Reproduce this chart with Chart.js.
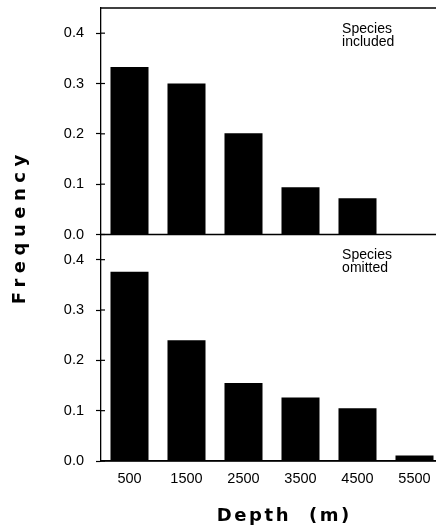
<!DOCTYPE html>
<html><head><meta charset="utf-8">
<script src="https://cdn.jsdelivr.net/npm/chart.js@4/dist/chart.umd.min.js"></script>
<style>
html,body{margin:0;padding:0;overflow:hidden;background:#fff}
#wrap{width:446px;height:528px;position:relative}
</style>
</head><body><div id="wrap"><canvas id="c" width="446" height="528"></canvas></div>
<script>
const depths = ['500','1500','2500','3500','4500','5500'];
const included = [0.333, 0.300, 0.201, 0.094, 0.072, 0.001];
const omitted = [0.376, 0.240, 0.155, 0.126, 0.105, 0.011];
const yTicks = [0.0, 0.1, 0.2, 0.3, 0.4];
const yMax = 0.45;
const topLabel = ['Species', 'included'];
const bottomLabel = ['Species', 'omitted'];
const xTitle = 'Depth  (m)';
const yTitle = 'Frequency';

const tickFont = {family: '"Liberation Sans", Arial, sans-serif', size: 14.5};

function yAxis() {
  return {
    type: 'linear', position: 'left', stack: 'panels', stackWeight: 1,
    min: 0, max: yMax,
    grid: {drawOnChartArea: false, tickLength: 5, tickColor: '#000', tickWidth: 1.2},
    border: {display: true, color: '#000', width: 1.3},
    ticks: {
      stepSize: 0.1, includeBounds: false, color: '#000', font: tickFont, padding: 12,
      callback: v => (Math.abs(v - Math.round(v * 10) / 10) < 1e-9 ? v.toFixed(1) : '')
    },
    afterFit: s => { s.width = 101; s.paddingTop = 0; s.paddingBottom = 0; }
  };
}

const decor = {
  id: 'decor',
  afterDatasetsDraw(chart) {
    const {ctx, chartArea: a, scales} = chart;
    const line = (x1, y1, x2, y2) => { ctx.beginPath(); ctx.moveTo(x1, y1); ctx.lineTo(x2, y2); ctx.stroke(); };
    ctx.save();
    ctx.strokeStyle = '#000';
    ctx.lineWidth = 1.3;
    line(a.left, a.top, a.right, a.top);
    for (const id of ['yTop', 'yBottom']) {
      const s = scales[id];
      line(a.left, s.getPixelForValue(0), a.right, s.getPixelForValue(0));
      ctx.lineWidth = 1.2;
      for (const v of yTicks) {
        const p = s.getPixelForValue(v);
        line(a.left, p, a.left + 4, p);
      }
      ctx.lineWidth = 1.3;
    }
    // panel labels
    ctx.fillStyle = '#000';
    ctx.font = '14px "Liberation Sans", Arial, sans-serif';
    ctx.textAlign = 'left';
    ctx.textBaseline = 'top';
    const lx = a.left + 0.705 * (a.right - a.left);
    [[scales.yTop, topLabel], [scales.yBottom, bottomLabel]].forEach(([s, lines]) => {
      lines.forEach((t, i) => ctx.fillText(t, lx, s.top + 14 + i * 13));
    });
    // axis titles with letter spacing
    ctx.font = 'bold 18px "DejaVu Sans", sans-serif';
    ctx.textBaseline = 'alphabetic';
    ctx.letterSpacing = '5.5px';
    let w = ctx.measureText(yTitle).width - 5.5;
    ctx.save();
    ctx.translate(25, (a.top + a.bottom) / 2 - 5);
    ctx.rotate(-Math.PI / 2);
    ctx.fillText(yTitle, -w / 2, 0);
    ctx.restore();
    ctx.font = 'bold 18px "DejaVu Sans", sans-serif';
    ctx.letterSpacing = '2.6px';
    w = ctx.measureText(xTitle).width - 2.6;
    ctx.fillText(xTitle, (a.left + a.right) / 2 + 11 - w / 2, 521);
    ctx.restore();
  }
};

new Chart(document.getElementById('c'), {
  type: 'bar',
  data: {
    labels: depths,
    datasets: [
      {label: 'Species included', data: included, yAxisID: 'yTop', backgroundColor: '#000',
       barPercentage: 0.667, categoryPercentage: 1, grouped: false},
      {label: 'Species omitted', data: omitted, yAxisID: 'yBottom', backgroundColor: '#000',
       barPercentage: 0.667, categoryPercentage: 1, grouped: false}
    ]
  },
  options: {
    responsive: false, animation: false,
    layout: {padding: {top: 8, right: 3, left: 0, bottom: 0}},
    plugins: {legend: {display: false}, tooltip: {enabled: false}},
    scales: {
      x: {
        type: 'category', offset: true,
        grid: {display: true, drawOnChartArea: false, drawTicks: false},
        border: {display: true, color: '#000', width: 1.3},
        ticks: {color: '#000', font: tickFont, padding: 9, maxRotation: 0},
        afterFit: s => { s.height = 67; }
      },
      yBottom: yAxis(),
      yTop: yAxis()
    }
  },
  plugins: [decor]
});
</script>
</body></html>
